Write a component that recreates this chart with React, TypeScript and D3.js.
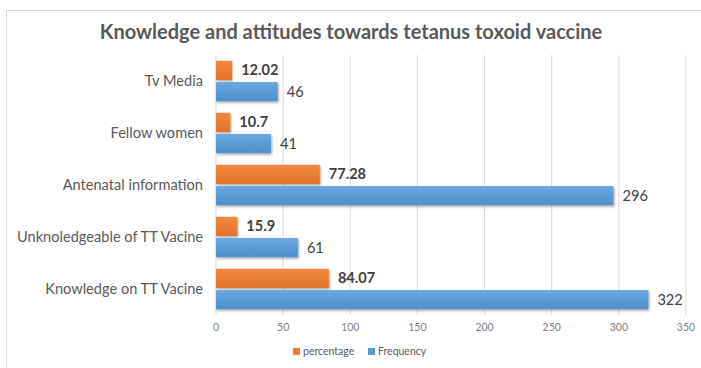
import React from "react";
import * as d3 from "d3";

const categories = ["Tv Media", "Fellow women", "Antenatal information", "Unknoledgeable of TT Vacine", "Knowledge on TT Vacine"];
const percentage = [12.02, 10.7, 77.28, 15.9, 84.07];
const frequency = [46, 41, 296, 61, 322];
const ticks = [0, 50, 100, 150, 200, 250, 300, 350];
const title = "Knowledge and attitudes towards tetanus toxoid vaccine";
const seriesNames = ["percentage", "Frequency"];

const W = 701, H = 368;
const ORANGE = "#ED7D31";
const BLUE = "#5B9BD5";
const FONT = "Lato, 'Open Sans', sans-serif";

export default function App() {
  const x = d3.scaleLinear().domain([0, 350]).range([216, 686]);
  const y = d3.scaleBand().domain(categories).range([55, 315]).paddingInner(0).paddingOuter(0);
  const inner = d3.scaleBand().domain(["p", "f"]).range([0, y.bandwidth()]).paddingInner(0.1).paddingOuter(0.27);

  return (
    <svg width={W} height={H} style={{ position: "absolute", left: 0, top: 0, background: "#fff" }}>
      <defs>
        <filter id="sh" x="-5%" y="-30%" width="110%" height="180%">
          <feDropShadow dx="1" dy="1.5" stdDeviation="1" floodColor="#000" floodOpacity="0.35" />
        </filter>
        <linearGradient id="gb" x1="0" y1="0" x2="0" y2="1">
          <stop offset="0" stopColor="#6aa8e0" />
          <stop offset="1" stopColor="#4f8fcb" />
        </linearGradient>
        <linearGradient id="go" x1="0" y1="0" x2="0" y2="1">
          <stop offset="0" stopColor="#f08a3f" />
          <stop offset="1" stopColor="#e2712a" />
        </linearGradient>
      </defs>
      <rect x={6.5} y={10.5} width={W + 10} height={H + 10} fill="#fff" stroke="#d9d9d9" strokeWidth={1} />
      <text x={351} y={39} textAnchor="middle" fontFamily={FONT} fontWeight="bold" fontSize={20} fill="#595959">{title}</text>
      {ticks.map((t) => (
        <line key={"g" + t} x1={x(t)} x2={x(t)} y1={55} y2={315} stroke="#d9d9d9" strokeWidth={1} />
      ))}
      {ticks.map((t) => (
        <text key={"t" + t} x={x(t)} y={331} textAnchor="middle" fontFamily={FONT} fontSize={10.5} fill="#7f7f7f">{t}</text>
      ))}
      {categories.map((c, i) => {
        const y0 = y(c)!;
        const yp = y0 + inner("p")!;
        const yf = y0 + inner("f")!;
        const bh = inner.bandwidth();
        return (
          <g key={c}>
            <text x={203} y={y0 + y.bandwidth() / 2 + 5} textAnchor="end" fontFamily={FONT} fontSize={14.6} fill="#595959">{c}</text>
            <rect x={x(0)} y={yp} width={x(percentage[i]) - x(0)} height={bh} fill="url(#go)" filter="url(#sh)" />
            <rect x={x(0)} y={yf} width={x(frequency[i]) - x(0)} height={bh} fill="url(#gb)" filter="url(#sh)" />
            <text x={x(percentage[i]) + 9} y={yp + bh / 2 + 5} fontFamily={FONT} fontWeight="bold" fontSize={14.6} fill="#404040">{percentage[i]}</text>
            <text x={x(frequency[i]) + 9} y={yf + bh / 2 + 5.5} fontFamily={FONT} fontSize={14.6} fill="#404040">{frequency[i]}</text>
          </g>
        );
      })}
      <g fontFamily={FONT} fontSize={10.5} fill="#595959">
        <rect x={293} y={348} width={7} height={7} fill={ORANGE} />
        <text x={303} y={355}>{seriesNames[0]}</text>
        <rect x={368} y={348} width={7} height={7} fill={BLUE} />
        <text x={378} y={355}>{seriesNames[1]}</text>
      </g>
    </svg>
  );
}
